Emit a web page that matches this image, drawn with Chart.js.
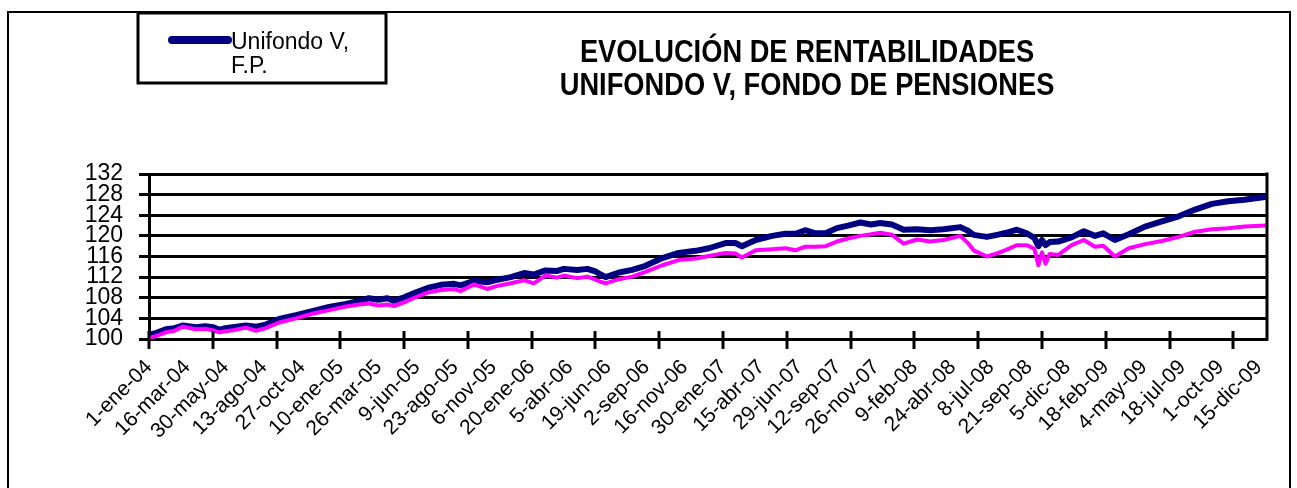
<!DOCTYPE html>
<html lang="es">
<head>
<meta charset="utf-8">
<title>Evolución de rentabilidades - Unifondo V</title>
<script src="https://cdn.jsdelivr.net/npm/chart.js"></script>
<style>
  html, body { margin: 0; padding: 0; background: #fff; }
</style>
</head>
<body>
<canvas id="grafico" width="1297" height="488"></canvas>
<script>
// Días transcurridos desde el 1-ene-04
const dias = [0, 15, 33, 50, 66, 92, 110, 125, 138, 150, 164, 190, 210, 229, 255, 288, 320, 353, 386, 412,
  431, 450, 467, 480, 500, 520, 546, 572, 598, 611, 637, 663, 683, 709, 735, 754, 777, 800, 813, 839,
  859, 875, 885, 895, 921, 947, 973, 1006, 1038, 1071, 1097, 1130, 1149, 1162, 1189, 1221, 1247, 1267, 1286, 1306,
  1326, 1348, 1370, 1394, 1415, 1433, 1456, 1479, 1505, 1531, 1557, 1590, 1605, 1616, 1642, 1662, 1680, 1701, 1720, 1735,
  1743, 1750, 1757, 1765, 1782, 1808, 1832, 1854, 1870, 1893, 1920, 1952, 1985, 2018, 2050, 2083, 2115, 2147, 2191];

// Unifondo V, F.P. (línea azul)
const unifondo = [100.8, 101.2, 101.9, 102.1, 102.6, 102.3, 102.5, 102.3, 101.8, 102.1, 102.3, 102.6, 102.4, 102.8, 103.9, 104.6, 105.4, 106.2, 106.8, 107.4,
  107.9, 107.6, 107.9, 107.4, 108.1, 108.9, 109.9, 110.5, 110.7, 110.4, 111.3, 111.0, 111.5, 112.0, 112.8, 112.5, 113.3, 113.2, 113.6, 113.4,
  113.6, 113.1, 112.5, 112.0, 112.9, 113.4, 114.2, 115.7, 116.7, 117.1, 117.6, 118.6, 118.6, 118.0, 119.2, 120.0, 120.4, 120.4, 121.1, 120.5,
  120.5, 121.5, 122.0, 122.6, 122.2, 122.5, 122.2, 121.2, 121.3, 121.1, 121.3, 121.7, 121.0, 120.2, 119.8, 120.2, 120.6, 121.2, 120.5, 119.6,
  118.0, 119.2, 118.2, 118.8, 118.9, 119.7, 120.9, 120.0, 120.5, 119.2, 120.3, 121.8, 122.8, 123.8, 125.1, 126.2, 126.7, 127.0, 127.6];

// Serie de comparación (línea rosa, sin entrada en la leyenda)
const referencia = [100.2, 100.6, 101.3, 101.6, 102.4, 101.9, 102.0, 101.7, 101.3, 101.5, 101.7, 102.2, 101.6, 102.1, 103.2, 104.0, 104.9, 105.6, 106.3, 106.7,
  106.9, 106.5, 106.7, 106.4, 107.1, 108.0, 109.0, 109.5, 109.7, 109.3, 110.6, 109.7, 110.3, 110.8, 111.4, 110.8, 112.3, 111.9, 112.3, 111.8,
  112.1, 111.5, 111.1, 110.8, 111.6, 112.1, 113.0, 114.3, 115.3, 115.6, 116.1, 116.7, 116.6, 115.8, 117.2, 117.4, 117.6, 117.2, 117.9, 117.9,
  118.0, 118.9, 119.5, 120.0, 120.3, 120.6, 120.2, 118.5, 119.3, 118.9, 119.2, 120.0, 118.6, 117.2, 116.0, 116.6, 117.3, 118.2, 118.2, 117.5,
  114.3, 116.8, 114.6, 116.5, 116.3, 118.2, 119.2, 117.9, 118.1, 116.0, 117.6, 118.4, 119.0, 119.8, 120.8, 121.3, 121.5, 121.8, 122.0];

const etiquetasX = ['1-ene-04', '16-mar-04', '30-may-04', '13-ago-04', '27-oct-04', '10-ene-05', '26-mar-05', '9-jun-05',
  '23-ago-05', '6-nov-05', '20-ene-06', '5-abr-06', '19-jun-06', '2-sep-06', '16-nov-06', '30-ene-07', '15-abr-07',
  '29-jun-07', '12-sep-07', '26-nov-07', '9-feb-08', '24-abr-08', '8-jul-08', '21-sep-08', '5-dic-08', '18-feb-09',
  '4-may-09', '18-jul-09', '1-oct-09', '15-dic-09'];
const ticksY = [100, 104, 108, 112, 116, 120, 124, 128, 132];

const titulo = ['EVOLUCIÓN DE RENTABILIDADES', 'UNIFONDO V, FONDO DE PENSIONES'];
const leyenda = ['Unifondo V,', 'F.P.'];

const diasEtiqueta = 75;   // una etiqueta cada 75 días
const diasMarca = 125;     // una marca cada 125 días
const ultimoDia = 2191;    // 31-dic-09

const fuente = "'Liberation Sans', Arial, sans-serif";

// marco, título, leyenda y marcas del eje X
const adornos = {
  id: 'adornos',
  afterDraw(chart) {
    const ctx = chart.ctx;
    const area = chart.chartArea;
    const x = chart.scales.x;
    ctx.save();
    ctx.strokeStyle = '#000';

    // marco exterior
    ctx.lineWidth = 2;
    ctx.strokeRect(8, 12, 1282, 500);

    // borde derecho del área de trazado
    ctx.lineWidth = 3;
    ctx.beginPath();
    ctx.moveTo(area.right, area.top - 1.5);
    ctx.lineTo(area.right, area.bottom + 1.5);
    ctx.stroke();

    // marcas del eje X, cruzando el eje
    for (let d = 0; d <= ultimoDia; d += diasMarca) {
      const px = Math.round(x.getPixelForValue(d));
      ctx.beginPath();
      ctx.moveTo(px, area.bottom - 8);
      ctx.lineTo(px, area.bottom + 10);
      ctx.stroke();
    }

    // título (algo estrecho, como en el original)
    ctx.fillStyle = '#000';
    ctx.font = 'bold 31px ' + fuente;
    ctx.textAlign = 'center';
    ctx.textBaseline = 'alphabetic';
    ctx.save();
    ctx.translate(807, 0);
    ctx.scale(0.88, 1);
    ctx.fillText(titulo[0], 0, 62);
    ctx.fillText(titulo[1], 0, 95);
    ctx.restore();

    // leyenda
    const ds = chart.data.datasets[0];
    ctx.lineWidth = 3;
    ctx.strokeRect(138, 13, 248, 70);
    ctx.strokeStyle = ds.borderColor;
    ctx.lineWidth = 8;
    ctx.lineCap = 'round';
    ctx.beginPath();
    ctx.moveTo(172, 40);
    ctx.lineTo(228, 40);
    ctx.stroke();
    ctx.font = '23px ' + fuente;
    ctx.textAlign = 'left';
    ctx.fillText(leyenda[0], 231, 49);
    ctx.fillText(leyenda[1], 231, 73);
    ctx.restore();
  }
};

new Chart(document.getElementById('grafico'), {
  type: 'line',
  data: {
    datasets: [{
      label: leyenda.join(' '),
      data: dias.map((d, i) => ({ x: d, y: unifondo[i] })),
      borderColor: '#000080',
      borderWidth: 6,
      borderJoinStyle: 'round',
      pointRadius: 0,
      tension: 0,
      order: 2
    }, {
      label: 'Referencia',
      data: dias.map((d, i) => ({ x: d, y: referencia[i] })),
      borderColor: '#FF00FF',
      borderWidth: 4,
      borderJoinStyle: 'round',
      pointRadius: 0,
      tension: 0,
      order: 1
    }]
  },
  options: {
    responsive: false,
    animation: false,
    devicePixelRatio: 1,
    layout: { padding: { top: 174, right: 30, bottom: 0, left: 0 } },
    plugins: {
      legend: { display: false },
      title: { display: false },
      tooltip: { enabled: false }
    },
    scales: {
      x: {
        type: 'linear',
        min: 0,
        max: ultimoDia,
        afterBuildTicks: s => { s.ticks = etiquetasX.map((t, i) => ({ value: i * diasEtiqueta })); },
        afterFit: s => { s.height = 149; },
        grid: { display: false, drawTicks: false },
        border: { display: true, color: '#000', width: 3 },
        ticks: {
          autoSkip: false,
          minRotation: 45,
          maxRotation: 45,
          padding: 16,
          color: '#000',
          font: { family: fuente, size: 21 },
          callback: (v, i) => etiquetasX[i]
        }
      },
      y: {
        min: 100,
        max: 132,
        afterBuildTicks: s => { s.ticks = ticksY.map(v => ({ value: v })); },
        afterFit: s => { s.width = 149; },
        grid: { color: '#000', lineWidth: 3, tickLength: 10 },
        border: { display: true, color: '#000', width: 3 },
        ticks: {
          autoSkip: false,
          padding: 16,
          color: '#000',
          font: { family: fuente, size: 23 }
        }
      }
    }
  },
  plugins: [adornos]
});
</script>
</body>
</html>
